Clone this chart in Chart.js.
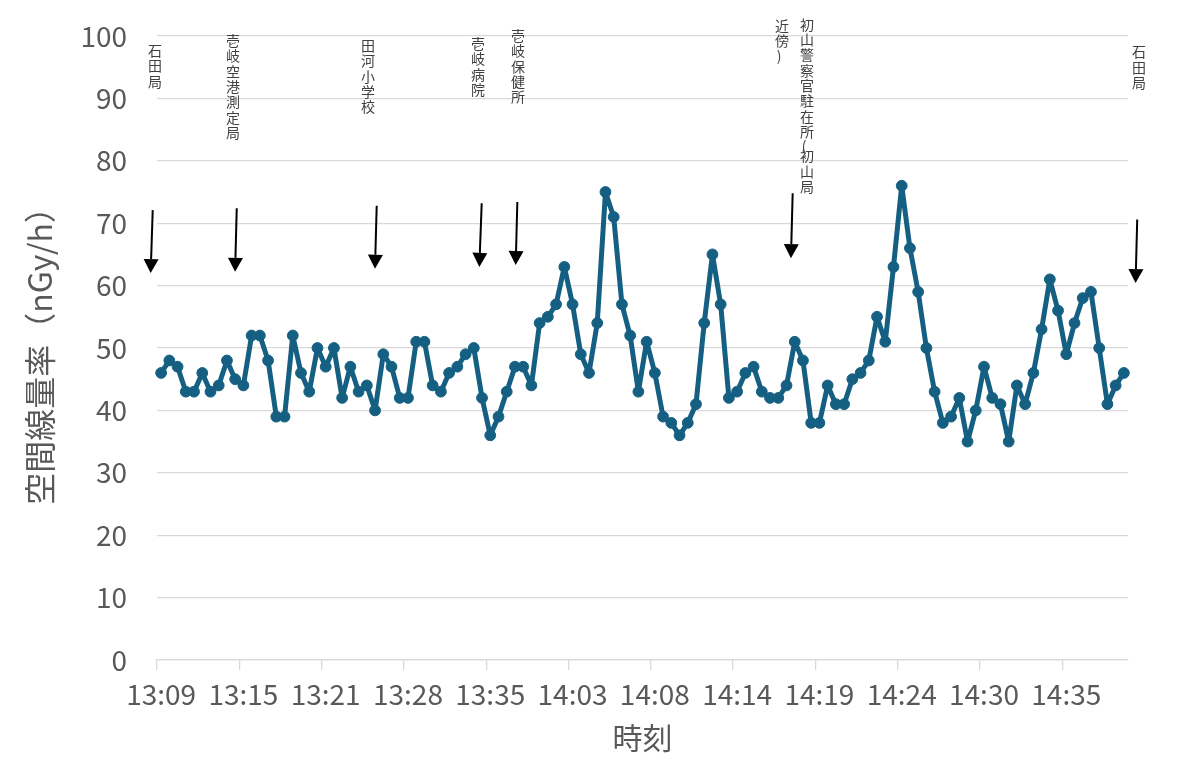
<!DOCTYPE html>
<html>
<head>
<meta charset="utf-8">
<script src="https://cdn.jsdelivr.net/npm/chart.js@4.4.1/dist/chart.umd.min.js"></script>
<style>
  html, body { margin: 0; padding: 0; background: #ffffff; }
  #wrap { width: 1192px; height: 767px; position: relative; }
</style>
</head>
<body>
<div id="wrap"><canvas id="c"></canvas></div>
<script>
// ---------------- data ----------------
// tick labels shown on the time axis (one every 10 measurements)
const tickLabels = ['13:09', '13:15', '13:21', '13:28', '13:35', '14:03',
                    '14:08', '14:14', '14:19', '14:24', '14:30', '14:35'];
const labelEvery = 10;

// air dose rate (nGy/h), one value per measurement
const doseRate = [
  46, 48, 47, 43, 43, 46, 43, 44, 48, 45,
  44, 52, 52, 48, 39, 39, 52, 46, 43, 50,
  47, 50, 42, 47, 43, 44, 40, 49, 47, 42,
  42, 51, 51, 44, 43, 46, 47, 49, 50, 42,
  36, 39, 43, 47, 47, 44, 54, 55, 57, 63,
  57, 49, 46, 54, 75, 71, 57, 52, 43, 51,
  46, 39, 38, 36, 38, 41, 54, 65, 57, 42,
  43, 46, 47, 43, 42, 42, 44, 51, 48, 38,
  38, 44, 41, 41, 45, 46, 48, 55, 51, 63,
  76, 66, 59, 50, 43, 38, 39, 42, 35, 40,
  47, 42, 41, 35, 44, 41, 46, 53, 61, 56,
  49, 54, 58, 59, 50, 41, 44, 46
];

// value axis
const yMin = 0, yMax = 100, yStep = 10;

// measurement-site annotations (text split into vertical columns, right column first)
const stationColumns = [
  ['石田局'],
  ['壱岐空港測定局'],
  ['田河小学校'],
  ['壱岐病院'],
  ['壱岐保健所'],
  ['初山警察官駐在所（初山局', '近傍）'],
  ['石田局']
];

// ---------------- annotation placement (axis units) ----------------
const arrowPlacement = [
  { topCat: -1.02, tipCat: -1.27, topVal: 72.1, tipVal: 62.0 },
  { topCat: 9.19,  tipCat: 8.99,  topVal: 72.4, tipVal: 62.2 },
  { topCat: 26.20, tipCat: 25.99, topVal: 72.8, tipVal: 62.7 },
  { topCat: 38.96, tipCat: 38.67, topVal: 73.2, tipVal: 63.0 },
  { topCat: 43.29, tipCat: 43.09, topVal: 73.4, tipVal: 63.3 },
  { topCat: 76.75, tipCat: 76.54, topVal: 74.8, tipVal: 64.4 },
  { topCat: 118.62, tipCat: 118.42, topVal: 70.6, tipVal: 60.4 }
];
const labelPlacement = [
  [{ cat: -0.74, val: 98.6 }],
  [{ cat: 8.74,  val: 100.2 }],
  [{ cat: 25.14, val: 99.4 }],
  [{ cat: 38.51, val: 99.7 }],
  [{ cat: 43.37, val: 101.0 }],
  [{ cat: 78.49, val: 102.8 }, { cat: 75.46, val: 102.6 }],
  [{ cat: 118.84, val: 98.4 }]
];

// ---------------- styles ----------------
const FONT = "'Noto Sans CJK JP', 'Noto Sans', sans-serif";
const TEXT_GREY = '#595959';
const GRID_GREY = '#d9d9d9';
const LINE_BLUE = '#156082';

const categories = doseRate.map((_, i) => (i % labelEvery === 0 ? tickLabels[i / labelEvery] : ''));

const stationPlugin = {
  id: 'stations',
  afterDraw(chart) {
    const xs = chart.scales.x, ys = chart.scales.y, ctx = chart.ctx;
    ctx.save();
    // arrows
    arrowPlacement.forEach(a => {
      const x1 = xs.getPixelForValue(a.topCat), y1 = ys.getPixelForValue(a.topVal);
      const x2 = xs.getPixelForValue(a.tipCat), y2 = ys.getPixelForValue(a.tipVal);
      const head = 14, half = 7.5;
      const ang = Math.atan2(y2 - y1, x2 - x1);
      const bx = x2 - head * Math.cos(ang), by = y2 - head * Math.sin(ang);
      ctx.strokeStyle = '#000'; ctx.lineWidth = 2;
      ctx.beginPath(); ctx.moveTo(x1, y1); ctx.lineTo(bx, by); ctx.stroke();
      ctx.fillStyle = '#000';
      ctx.beginPath();
      ctx.moveTo(x2, y2);
      ctx.lineTo(bx + half * Math.sin(ang), by - half * Math.cos(ang));
      ctx.lineTo(bx - half * Math.sin(ang), by + half * Math.cos(ang));
      ctx.closePath(); ctx.fill();
    });
    // vertical labels
    ctx.fillStyle = '#404040';
    ctx.font = '14px ' + FONT;
    ctx.textAlign = 'center';
    ctx.textBaseline = 'top';
    stationColumns.forEach((cols, si) => {
      cols.forEach((txt, ci) => {
        const p = labelPlacement[si][ci];
        const cx = xs.getPixelForValue(p.cat);
        let cy = ys.getPixelForValue(p.val) - 1;
        for (const ch of txt) {
          if (ch === '（' || ch === '）') {
            ctx.fillText(ch === '（' ? '(' : ')', cx - 3, cy - 1);
            cy += 9;
          } else {
            ctx.fillText(ch, cx, cy);
            cy += 15.3;
          }
        }
      });
    });
    ctx.restore();
  }
};

new Chart(document.getElementById('c'), {
  type: 'line',
  data: {
    labels: categories,
    datasets: [{
      data: doseRate,
      borderColor: LINE_BLUE,
      backgroundColor: LINE_BLUE,
      borderWidth: 5,
      borderJoinStyle: 'round',
      borderCapStyle: 'round',
      pointRadius: 5.4,
      pointBorderWidth: 1,
      pointBackgroundColor: LINE_BLUE,
      pointBorderColor: LINE_BLUE,
      tension: 0
    }]
  },
  options: {
    responsive: true,
    maintainAspectRatio: false,
    animation: false,
    layout: { autoPadding: false, padding: { top: 36, right: 64, bottom: 0, left: 0 } },
    plugins: { legend: { display: false }, tooltip: { enabled: false } },
    scales: {
      x: {
        type: 'category',
        offset: true,
        grid: {
          offset: true,
          drawOnChartArea: false,
          drawTicks: true,
          tickLength: 10,
          lineWidth: 1.3,
          color: (ctx) => (typeof ctx.index === 'number' && ctx.index % labelEvery === 0 ? GRID_GREY : 'rgba(0,0,0,0)')
        },
        border: { display: true, color: GRID_GREY, width: 1.3 },
        ticks: {
          autoSkip: false,
          maxRotation: 0,
          minRotation: 0,
          padding: 8,
          color: TEXT_GREY,
          font: { family: FONT, size: 28 },
          callback: (v, i) => categories[i]
        },
        title: {
          display: true,
          text: '時刻',
          color: TEXT_GREY,
          font: { family: FONT, size: 30 },
          padding: { top: 0, bottom: 11 }
        },
        afterFit: (s) => { s.height = 107; s.paddingLeft = 0; s.paddingRight = 0; }
      },
      y: {
        min: yMin,
        max: yMax,
        ticks: {
          stepSize: yStep,
          padding: 30,
          color: TEXT_GREY,
          font: { family: FONT, size: 28 }
        },
        grid: { color: GRID_GREY, lineWidth: 1.3, drawTicks: false },
        border: { display: false },
        title: {
          display: true,
          text: '空間線量率（nGy/h）',
          color: TEXT_GREY,
          font: { family: FONT, size: 32 },
          padding: { top: 21, bottom: 0 }
        },
        afterFit: (s) => { s.width = 157; s.paddingTop = 0; s.paddingBottom = 0; }
      }
    }
  },
  plugins: [stationPlugin]
});
</script>
</body>
</html>
